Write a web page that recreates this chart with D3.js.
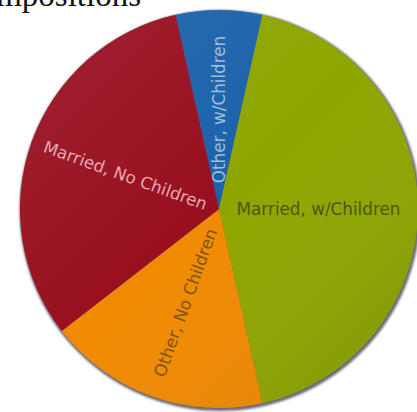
<!DOCTYPE html>
<html>
<head>
<meta charset="utf-8">
<script src="https://cdn.jsdelivr.net/npm/d3@7"></script>
<style>
  html, body { margin: 0; padding: 0; background: #ffffff; overflow: hidden; }
  svg { display: block; }
</style>
</head>
<body>
<svg id="chart" width="417" height="412"></svg>
<script>
// Household composition shares (percent)
const categories = ["Other, w/Children", "Married, w/Children", "Other, No Children", "Married, No Children"];
const shares = [7, 43, 18, 32];
const sliceColors = ["#1a62aa", "#8ea500", "#f08a02", "#980f1f"];
const labelColors = ["#a3bdd9", "#4c570c", "#7f5411", "#e2a9b2"];
const title = "Household Compositions";

const width = 417, height = 412;
const cx = 219, cy = 209, radius = 199;

const svg = d3.select("#chart");
const defs = svg.append("defs");

// soft grey rim under the pie
const blur = defs.append("filter").attr("id", "rim")
  .attr("x", "-10%").attr("y", "-10%").attr("width", "120%").attr("height", "120%");
blur.append("feGaussianBlur").attr("stdDeviation", 1.3);

// light-to-dark sheen across the disc
const sheen = defs.append("linearGradient").attr("id", "sheen")
  .attr("x1", "0%").attr("y1", "0%").attr("x2", "100%").attr("y2", "100%");
sheen.append("stop").attr("offset", "0%").attr("stop-color", "#ffffff").attr("stop-opacity", 0.08);
sheen.append("stop").attr("offset", "50%").attr("stop-color", "#ffffff").attr("stop-opacity", 0);
sheen.append("stop").attr("offset", "100%").attr("stop-color", "#000000").attr("stop-opacity", 0.12);

// title, running off the top-left corner
svg.append("text")
  .attr("x", 141).attr("y", 5.5)
  .attr("text-anchor", "end")
  .attr("font-family", "'Liberation Serif', 'Times New Roman', serif")
  .attr("font-size", 33)
  .attr("fill", "#111")
  .text(title);

const g = svg.append("g").attr("transform", `translate(${cx},${cy})`);

g.append("circle")
  .attr("cx", 1).attr("cy", 1.5).attr("r", radius + 1.5)
  .attr("fill", "#6c6c78")
  .attr("filter", "url(#rim)");

const data = categories.map((c, i) => ({ name: c, value: shares[i], i }));
const total = d3.sum(shares);
const start = -Math.PI * shares[0] / total; // first slice centred on top

const pie = d3.pie().value(d => d.value).sort(null)
  .startAngle(start).endAngle(start + 2 * Math.PI);
const arcs = pie(data);
const arc = d3.arc().innerRadius(0).outerRadius(radius);

g.selectAll("path.slice")
  .data(arcs)
  .join("path")
  .attr("class", "slice")
  .attr("d", arc)
  .attr("fill", d => sliceColors[d.data.i]);

g.append("circle").attr("r", radius).attr("fill", "url(#sheen)");

// radial labels, centred at half the radius
const labelR = radius / 2;
g.selectAll("text.lbl")
  .data(arcs)
  .join("text")
  .attr("class", "lbl")
  .attr("transform", d => {
    const a = (d.startAngle + d.endAngle) / 2;
    const x = Math.sin(a) * labelR, y = -Math.cos(a) * labelR;
    let deg = a * 180 / Math.PI;
    deg = ((deg % 360) + 360) % 360;
    const rot = deg < 180 ? deg - 90 : deg - 270;
    return `translate(${x},${y}) rotate(${rot})`;
  })
  .attr("text-anchor", "middle")
  .attr("dominant-baseline", "central")
  .attr("font-family", "'DejaVu Sans', Verdana, sans-serif")
  .attr("font-size", 16.8)
  .attr("fill", d => labelColors[d.data.i])
  .text(d => d.data.name);
</script>
</body>
</html>
